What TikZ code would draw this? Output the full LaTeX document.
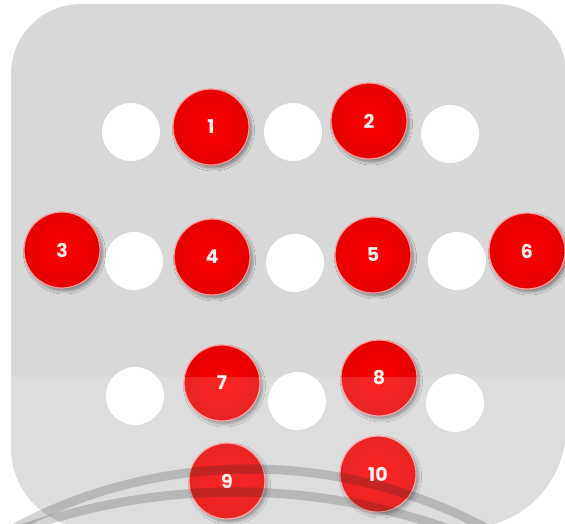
\documentclass[tikz,border=0pt]{standalone}
\usepackage{fontspec}
\setmainfont{Poppins}
\usetikzlibrary{shadows.blur}
\definecolor{bggray}{HTML}{D8D8D8}
\definecolor{ballred}{HTML}{FF0000}
\definecolor{ballredd}{HTML}{E40000}
\definecolor{rimred}{HTML}{FF9A9A}
\definecolor{digitw}{HTML}{FFF0F0}
\definecolor{bandred}{HTML}{B80000}
\tikzset{
  digit/.style={text=digitw, font=\fontsize{19}{22}\selectfont\bfseries},
  redball/.style={circle, minimum size=76pt, inner sep=0pt,
    shading=radial, inner color=ballred, outer color=ballredd,
    draw=rimred, line width=1.2pt,
    blur shadow={shadow xshift=2.5pt, shadow yshift=-3pt, shadow blur radius=3pt, shadow blur steps=6, shadow opacity=40},
    digit},
  whiteball/.style={circle, minimum size=58pt, inner sep=0pt, fill=white},
  band/.style={line width=9pt, draw=black, draw opacity=0.2},
  redband/.style={line width=9pt, draw=bandred}
}
\begin{document}
\begin{tikzpicture}[x=1pt,y=-1pt]
\useasboundingbox (0,0) rectangle (565,524);
\begin{scope}
\clip (0,0) rectangle (565,524);
% background panel
\fill[bggray] (11,74) arc (180:270:70) -- (496,4) arc (270:360:70)
  -- (566,428) arc (0:90:100) -- (91,528) arc (90:180:80) -- cycle;
% row 1
\node[whiteball] (w1) at (131,132) {};
\node[whiteball] (w2) at (293,132) {};
\node[whiteball] (w3) at (450,134) {};
\node[redball] (n1) at (211,127) {1};
\node[redball] (n2) at (369,121) {2};
% row 2
\node[whiteball] (w4) at (134,261) {};
\node[whiteball] (w5) at (295,263) {};
\node[whiteball] (w6) at (457,261) {};
\node[redball] (n3) at (62,250) {3};
\node[redball] (n4) at (212,257) {4};
\node[redball] (n5) at (373,255) {5};
\node[redball] (n6) at (527,251) {6};
% row 3
\node[whiteball] (w7) at (135,396) {};
\node[whiteball] (w8) at (297,401) {};
\node[whiteball] (w9) at (455,403) {};
\node[redball] (n7) at (222,383) {7};
\node[redball] (n8) at (379,378) {8};
% row 4
\node[redball] (n9) at (227,481) {};
\node[redball] (n10) at (378,474) {};
% arcs
\draw[band] (250,969) ++(230:500) arc (230:310:500);
\draw[band] (235,1128) ++(240:636) arc (240:300:636);
% arcs where they cross the red balls
\begin{scope}
\clip (n9.center) circle (37) (n10.center) circle (37);
\draw[redband] (250,969) ++(230:500) arc (230:310:500);
\draw[redband] (235,1128) ++(240:636) arc (240:300:636);
\end{scope}
\node[digit] (l9) at (n9.center) {9};
\node[digit] (l10) at (n10.center) {10};
% lighter lower part
\fill[white, opacity=0.14] (0,377) rectangle (565,524);
\end{scope}
\end{tikzpicture}
\end{document}
